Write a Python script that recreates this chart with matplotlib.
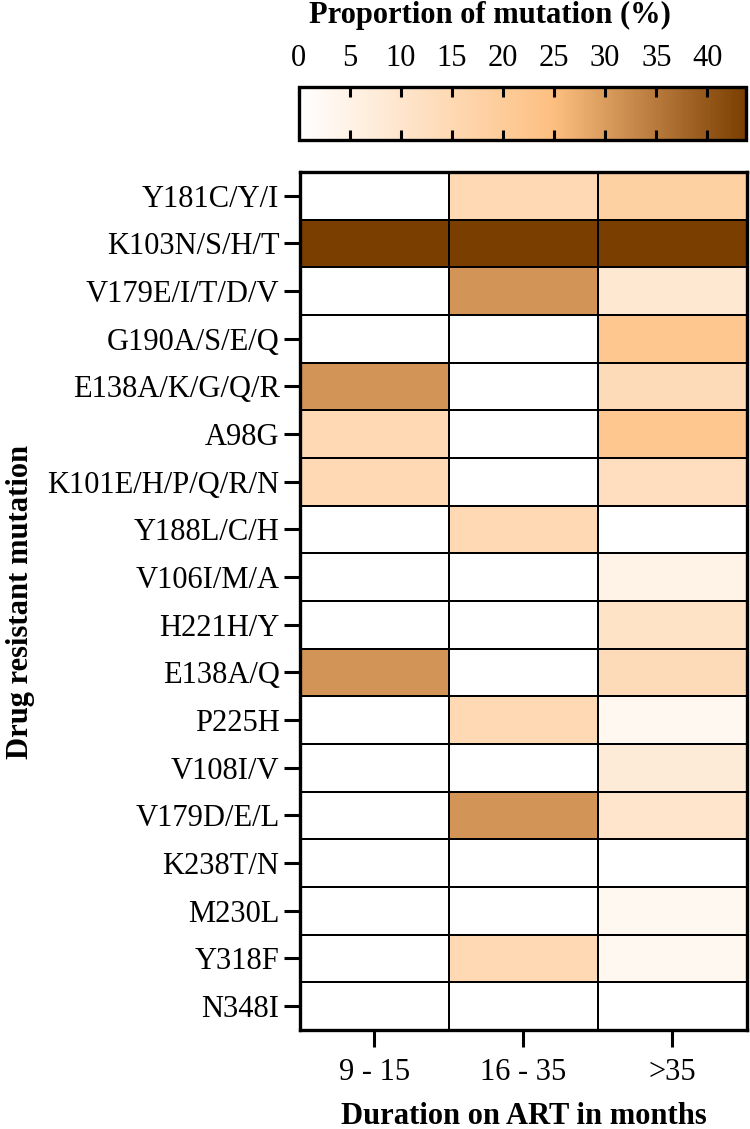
"""
Heatmap of drug resistant mutation proportions by duration on ART
"""
import numpy as np
import matplotlib
matplotlib.use('Agg')
import matplotlib.pyplot as plt
from matplotlib.colors import LinearSegmentedColormap


# ==================== data ====================
mutations = [
    "Y181C/Y/I", "K103N/S/H/T", "V179E/I/T/D/V", "G190A/S/E/Q",
    "E138A/K/G/Q/R", "A98G", "K101E/H/P/Q/R/N", "Y188L/C/H",
    "V106I/M/A", "H221H/Y", "E138A/Q", "P225H", "V108I/V",
    "V179D/E/L", "K238T/N", "M230L", "Y318F", "N348I",
]
durations = ["9 - 15", "16 - 35", ">35"]

# proportion (%) per duration group
months_9_15 = [0, 45, 0, 0, 31, 15, 15, 0, 0, 0, 31, 0, 0, 0, 0, 0, 0, 0]
months_16_35 = [15, 45, 31, 0, 0, 0, 0, 15, 0, 0, 0, 15, 0, 31, 0, 0, 15, 0]
months_over_35 = [18, 45, 9, 22, 14, 22, 13, 0, 5, 11, 14, 3, 8, 10, 0, 3, 3, 0]

tick_values = [0, 5, 10, 15, 20, 25, 30, 35, 40]


def main():
    plt.rcParams['font.family'] = ['Liberation Serif', 'DejaVu Serif']
    plt.rcParams['font.size'] = 22

    data = np.column_stack([months_9_15, months_16_35, months_over_35])
    vmax = 43.8
    cmap = LinearSegmentedColormap.from_list(
        'peach_brown',
        [(0.0, '#ffffff'), (25 / vmax, '#fdbf80'), (1.0, '#7a3e00')],
    )

    fig = plt.figure(figsize=(7.5, 11.29), dpi=100)
    ax = fig.add_axes([0.3995, 0.0877, 0.5965, 0.76])
    mesh = ax.pcolormesh(data, cmap=cmap, vmin=0, vmax=vmax,
                         edgecolors='black', linewidth=1.2)
    ax.set_xlim(0, len(durations))
    ax.set_ylim(len(mutations), 0)
    ax.set_xticks(np.arange(len(durations)) + 0.5)
    ax.set_xticklabels(durations)
    ax.set_yticks(np.arange(len(mutations)) + 0.5)
    ax.set_yticklabels(mutations)
    ax.tick_params(axis='y', length=11.5, width=2.2, pad=3)
    ax.tick_params(axis='x', length=12, width=2.2, pad=8)
    for spine in ax.spines.values():
        spine.set_linewidth(2.4)

    # colour bar on top
    cax = fig.add_axes([0.398, 0.876, 0.597, 0.047])
    cbar = fig.colorbar(mesh, cax=cax, orientation='horizontal')
    cbar.set_ticks(tick_values)
    cbar.outline.set_linewidth(2.4)
    cax.tick_params(top=True, bottom=True, labeltop=True, labelbottom=False,
                    direction='in', length=7, width=2.2, pad=10)

    fig.text(0.653, 0.986, 'Proportion of mutation (%)', fontweight='bold',
             ha='center', va='center')
    fig.text(0.698, 0.011, 'Duration on ART in months', fontweight='bold',
             ha='center', va='center')
    fig.text(0.027, 0.467, 'Drug resistant mutation', fontweight='bold',
             rotation=90, ha='center', va='center')

    fig.savefig('out.png', dpi=100)


if __name__ == "__main__":
    main()
